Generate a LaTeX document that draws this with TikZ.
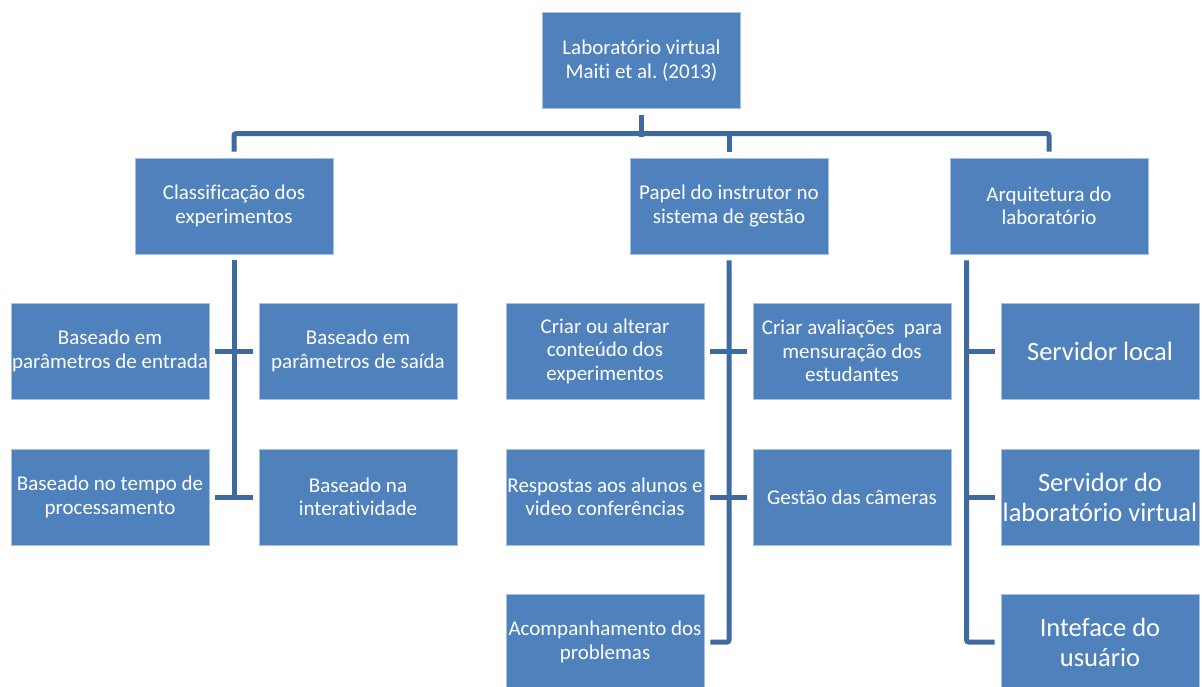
\documentclass[tikz,border=0pt]{standalone}
\usepackage{fontspec}
\setmainfont{Carlito}[Ligatures={NoCommon}]
\frenchspacing
\definecolor{boxblue}{HTML}{4F81BD}
\definecolor{boxedge}{HTML}{A9C0E0}
\definecolor{connblue}{HTML}{3E6AA0}
\begin{document}
\begin{tikzpicture}[x=1pt,y=-1pt,
  box/.style={rectangle, fill=boxblue, draw=boxedge, line width=0.8pt,
    minimum width=198pt, minimum height=96pt, inner sep=0pt, text=white,
    align=center, font=\fontsize{21}{23.5}\selectfont\frenchspacing},
  bigbox/.style={box, font=\fontsize{26.5}{30}\selectfont},
  conn/.style={draw=connblue, line width=5pt, rounded corners=2pt}]
\useasboundingbox (0,0) rectangle (1202,686);
\clip (0,0) rectangle (1202,686);
\fill[white] (0,0) rectangle (1202,686);
% nodes
\node[box] (root) at (641.5,60.5) {Laboratório virtual\\Maiti et al. (2013)};
\node[box] (c1) at (234,206) {Classificação dos\\experimentos};
\node[box] (c2) at (729,206) {Papel do instrutor no\\sistema de gestão};
\node[box] (c3) at (1049,206) {Arquitetura do\\laboratório};
\node[box] (l1) at (110,351) {Baseado em\\parâmetros de entrada};
\node[box] (l2) at (358,351) {Baseado em\\parâmetros de saída};
\node[box] (l3) at (110,497) {Baseado no tempo de\\processamento};
\node[box] (l4) at (358,497) {Baseado na\\interatividade};
\node[box] (m1) at (605,351) {Criar ou alterar\\conteúdo dos\\experimentos};
\node[box] (m2) at (852,351) {Criar avaliações~ para\\mensuração dos\\estudantes};
\node[box] (m3) at (605,497) {Respostas aos alunos e\\video conferências};
\node[box] (m4) at (852,497) {Gestão das câmeras};
\node[box] (m5) at (605,642) {Acompanhamento dos\\problemas};
\node[bigbox] (r1) at (1100,351) {Servidor local};
\node[bigbox] (r2) at (1100,497) {Servidor do\\laboratório virtual};
\node[bigbox] (r3) at (1100,642) {Inteface do\\usuário};
% top connectors
\draw[conn] ([yshift=-6]root.south) -- ++(0,22);
\draw[conn] ([yshift=6]c1.north) -- ([yshift=24]c1.north) -| ([yshift=6]c3.north);
\draw[conn] ([yshift=6]c2.north) -- ([yshift=24]c2.north);
% left group
\draw[conn] ([yshift=-6]c1.south) -- (c1.south |- l3.east);
\draw[conn] ([xshift=6]l1.east) -- ([xshift=-6]l2.west);
\draw[conn] ([xshift=6]l3.east) -- ([xshift=-6]l4.west);
% middle group
\draw[conn] ([yshift=-6]c2.south) |- ([xshift=6]m5.east);
\draw[conn] ([xshift=6]m1.east) -- ([xshift=-6]m2.west);
\draw[conn] ([xshift=6]m3.east) -- ([xshift=-6]m4.west);
% right group
\draw[conn] ([xshift=17,yshift=-6]c3.south west) |- ([xshift=-6]r3.west);
\draw[conn] ([xshift=17]c3.south west |- r1.west) -- ([xshift=-6]r1.west);
\draw[conn] ([xshift=17]c3.south west |- r2.west) -- ([xshift=-6]r2.west);
\end{tikzpicture}
\end{document}
